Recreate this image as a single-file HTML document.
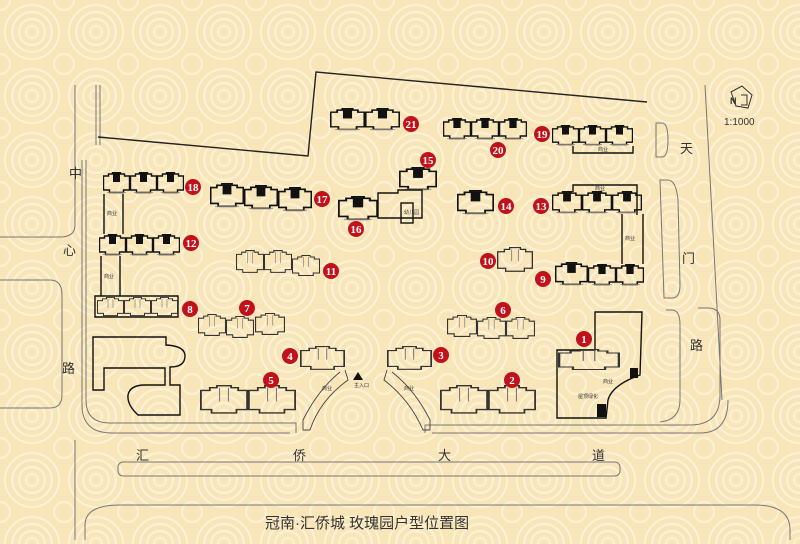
<!DOCTYPE html>
<html><head><meta charset="utf-8"><style>
html,body{margin:0;padding:0;width:800px;height:544px;overflow:hidden;background:#f8e7bb}
svg{display:block}
text{font-family:"Liberation Sans","Noto Sans CJK SC",sans-serif}
.mk circle{fill:#c1121c}
.mk text{fill:#fff;font-weight:bold;font-size:11px;text-anchor:middle;font-family:"Liberation Serif",serif}
.st{font-size:13px;fill:#333}
</style></head><body>
<svg width="800" height="544" viewBox="0 0 800 544" xmlns="http://www.w3.org/2000/svg">
<defs>
<pattern id="sw" width="64" height="64" patternUnits="userSpaceOnUse">
<rect width="64" height="64" fill="#f8e6b9"/>
<g fill="none" stroke="#fcf1d6" stroke-width="2.2">
<circle cx="32" cy="32" r="6"/><circle cx="32" cy="32" r="13"/><circle cx="32" cy="32" r="20"/><circle cx="32" cy="32" r="27"/>
<circle cx="0" cy="0" r="10"/><circle cx="64" cy="0" r="10"/><circle cx="0" cy="64" r="10"/><circle cx="64" cy="64" r="10"/>
</g></pattern>
<symbol id="ub" viewBox="0 0 27 22" preserveAspectRatio="none">
<path d="M0.5,4 h5 v-2 h4 v-1.5 h8 v1.5 h4 v2 h5 v14 h-6 v2.5 h-14 v-2.5 h-6 z" fill="none" stroke="#111" stroke-width="1.4"/>
<rect x="10" y="1" width="7" height="9" fill="#111"/>
<line x1="4" y1="20.5" x2="23" y2="20.5" stroke="#888" stroke-width="0.8"/>
</symbol>
<symbol id="ul" viewBox="0 0 27 22" preserveAspectRatio="none">
<path d="M0.5,4 h5 v-2 h4 v-1.5 h8 v1.5 h4 v2 h5 v14 h-6 v2.5 h-14 v-2.5 h-6 z" fill="none" stroke="#333" stroke-width="1"/>
<path d="M11,2 v10 M16,2 v10" stroke="#777" stroke-width="0.6"/>
</symbol>
</defs>
<rect width="800" height="544" fill="url(#sw)"/>

<!-- roads -->
<g fill="none" stroke="#777" stroke-width="1">
<path d="M96,85 V145 M100,85 V145"/>
<path d="M86,160 V400 Q86,423 110,423 H296 V433"/>
<path d="M82,160 V405 Q82,433 112,433 H290"/>
<path d="M75,85 V225 Q75,237 60,237 H0"/>
<path d="M0,280 H50 Q62,280 62,295 V395 Q62,408 50,408 H0"/>
<path d="M75,540 V440"/>
<path d="M425,433 V425 H690 Q720,425 720,395 V320 Q720,308 708,308 H698"/>
<path d="M432,433 H700 Q728,433 728,400"/>
<path d="M705,85 L722,400"/>
<path d="M656,123 H662 Q668,123 668,140 Q668,157 662,157 H656 Z"/>
<path d="M660,180 H668 Q676,180 678,200 L680,285 Q680,298 672,298 H664 Z"/>
<path d="M666,310 H672 Q680,310 680,325 V400 Q680,420 660,422"/>
<rect x="118" y="462" width="502" height="14" rx="5"/>
<path d="M85,540 V525 Q85,505 120,505 H755 Q790,505 790,530 V540"/>
</g>
<path d="M98,137 L308,156 L316,72 L647,102" fill="none" stroke="#222" stroke-width="1.4"/>

<!-- street names -->
<g class="st">
<text x="69" y="178">中</text><text x="63" y="255">心</text><text x="62" y="373">路</text>
<text x="680" y="153">天</text><text x="682" y="263">门</text><text x="690" y="350">路</text>
<text x="136" y="460">汇</text><text x="293" y="460">侨</text><text x="438" y="460">大</text><text x="592" y="460">道</text>
</g>
<text x="265" y="528" font-size="15" fill="#333">冠南·汇侨城 玫瑰园户型位置图</text>
<!-- compass -->
<g fill="none" stroke="#333" stroke-width="1">
<path d="M731,92 L742,86 L752,95 L748,108 L736,106 Z"/><path d="M741,95 h6 v10 h-6"/>
</g>
<text x="730" y="104" font-size="9" font-weight="bold" fill="#333">N</text>
<text x="724" y="125" font-size="10" fill="#333" font-family="Liberation Serif,serif">1:1000</text>

<!-- buildings dark -->
<g>
<use href="#ub" x="330" y="108" width="35" height="23"/><use href="#ub" x="365" y="108" width="35" height="23"/>
<use href="#ub" x="443" y="118" width="28" height="22"/><use href="#ub" x="471" y="118" width="28" height="22"/><use href="#ub" x="499" y="118" width="28" height="22"/>
<use href="#ub" x="552" y="125" width="27" height="21"/><use href="#ub" x="579" y="125" width="27" height="21"/><use href="#ub" x="606" y="125" width="27" height="21"/>
<use href="#ub" x="103" y="172" width="27" height="22"/><use href="#ub" x="130" y="172" width="27" height="22"/><use href="#ub" x="157" y="172" width="27" height="22"/>
<use href="#ub" x="210" y="183" width="34" height="25"/><use href="#ub" x="244" y="185" width="34" height="25"/><use href="#ub" x="278" y="187" width="34" height="25"/>
<use href="#ub" x="338" y="196" width="40" height="25"/>
<use href="#ub" x="399" y="167" width="38" height="24"/>
<use href="#ub" x="457" y="190" width="37" height="25"/>
<use href="#ub" x="552" y="191" width="30" height="23"/><use href="#ub" x="582" y="191" width="30" height="23"/><use href="#ub" x="612" y="191" width="30" height="23"/>
<use href="#ub" x="99" y="234" width="27" height="22"/><use href="#ub" x="126" y="234" width="27" height="22"/><use href="#ub" x="153" y="234" width="27" height="22"/>
<use href="#ub" x="555" y="262" width="33" height="24"/><use href="#ub" x="588" y="264" width="28" height="22"/><use href="#ub" x="616" y="264" width="28" height="22"/>
</g>
<g fill="none" stroke="#111" stroke-width="1.4">
<path d="M573,146 V153 H633 V146"/>
<path d="M573,192 V185 H637 V215"/><path d="M622,214 V264 M643,214 V264"/>
<path d="M104,194 V234 M123,194 V234"/>
<path d="M101,256 V296 M120,256 V296"/>
<path d="M378,193 H398 V190 H422 V218 H378 Z"/><rect x="401" y="203" width="12" height="20"/>
<path d="M95,296 H178 V317 H95 Z"/>
<path d="M557,350 H595 V312 H642 L640,375 Q612,385 608,400 L606,418 H557 Z"/>
<path d="M93,337 H166 V345 Q185,346 185,356 Q185,367 170,367 V385 H180 V415 H138 Q127,405 128,395 Q130,385 145,385 H165 V368 H104 V390 H93 Z"/>
</g>
<rect x="630" y="368" width="8" height="10" fill="#111"/><rect x="597" y="404" width="9" height="13" fill="#111"/>
<!-- light buildings -->
<g>
<use href="#ul" x="558" y="349" width="62" height="22"/>
<use href="#ul" x="236" y="250" width="28" height="24"/><use href="#ul" x="264" y="250" width="28" height="24"/><use href="#ul" x="292" y="255" width="28" height="22"/>
<use href="#ul" x="497" y="247" width="36" height="26"/>
<use href="#ul" x="97" y="297" width="27" height="20"/><use href="#ul" x="124" y="297" width="27" height="20"/><use href="#ul" x="151" y="297" width="27" height="20"/>
<use href="#ul" x="198" y="314" width="28" height="23"/><use href="#ul" x="226" y="316" width="28" height="23"/><use href="#ul" x="255" y="313" width="30" height="23"/>
<use href="#ul" x="447" y="315" width="30" height="23"/><use href="#ul" x="477" y="317" width="29" height="23"/><use href="#ul" x="506" y="317" width="29" height="23"/>
<use href="#ul" x="300" y="346" width="45" height="25"/><use href="#ul" x="387" y="346" width="45" height="25"/>
<use href="#ul" x="200" y="385" width="48" height="30"/><use href="#ul" x="248" y="385" width="48" height="30"/>
<use href="#ul" x="440" y="385" width="48" height="30"/><use href="#ul" x="488" y="385" width="48" height="30"/>
</g>
<g fill="none" stroke="#444" stroke-width="0.9">
<path d="M345,370 L348,380 Q320,400 310,430 H303 V420 Q318,390 340,372"/>
<path d="M387,370 L384,380 Q410,400 423,430 H430 V420 Q415,390 392,372"/>
</g>
<path d="M353,380 L358,372 L363,380 Z" fill="#111"/>
<g font-size="5" fill="#333">
<text x="354" y="387">主入口</text><text x="322" y="390">商业</text><text x="404" y="390">商业</text>
<text x="578" y="398">屋顶绿化</text><text x="603" y="383">商业</text>
<text x="107" y="215">商业</text><text x="104" y="278">商业</text><text x="404" y="214">幼儿园</text>
<text x="598" y="151">商业</text><text x="595" y="190">商业</text><text x="625" y="240">商业</text>
</g>

<!-- markers -->
<g class="mk">
<circle cx="411" cy="124" r="8"/><text x="411" y="128">21</text>
<circle cx="498" cy="150" r="8"/><text x="498" y="154">20</text>
<circle cx="542" cy="134" r="8"/><text x="542" y="138">19</text>
<circle cx="193" cy="187" r="8"/><text x="193" y="191">18</text>
<circle cx="322" cy="199" r="8"/><text x="322" y="203">17</text>
<circle cx="356" cy="229" r="8"/><text x="356" y="233">16</text>
<circle cx="428" cy="160" r="8"/><text x="428" y="164">15</text>
<circle cx="506" cy="206" r="8"/><text x="506" y="210">14</text>
<circle cx="541" cy="206" r="8"/><text x="541" y="210">13</text>
<circle cx="191" cy="243" r="8"/><text x="191" y="247">12</text>
<circle cx="331" cy="271" r="8"/><text x="331" y="275">11</text>
<circle cx="488" cy="261" r="8"/><text x="488" y="265">10</text>
<circle cx="543" cy="279" r="8"/><text x="543" y="283">9</text>
<circle cx="190" cy="309" r="8"/><text x="190" y="313">8</text>
<circle cx="247" cy="308" r="8"/><text x="247" y="312">7</text>
<circle cx="503" cy="310" r="8"/><text x="503" y="314">6</text>
<circle cx="584" cy="339" r="8"/><text x="584" y="343">1</text>
<circle cx="290" cy="356" r="8"/><text x="290" y="360">4</text>
<circle cx="441" cy="355" r="8"/><text x="441" y="359">3</text>
<circle cx="271" cy="380" r="8"/><text x="271" y="384">5</text>
<circle cx="512" cy="380" r="8"/><text x="512" y="384">2</text>
</g>
</svg>
</body></html>
